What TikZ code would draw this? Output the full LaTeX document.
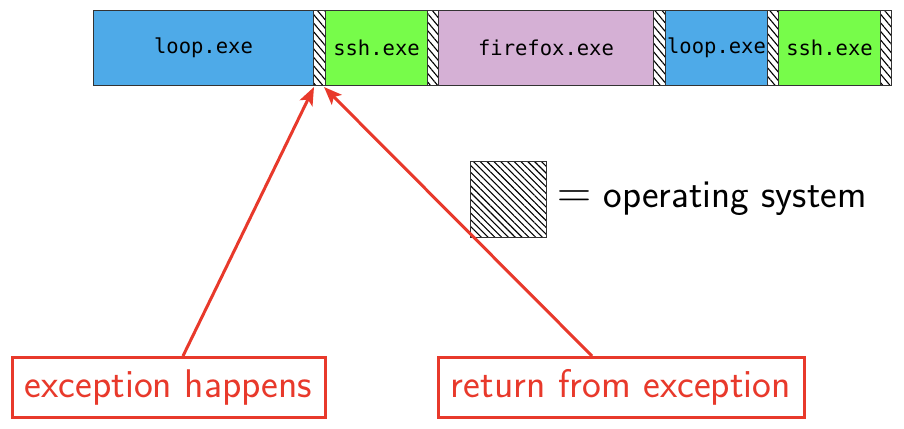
\documentclass[tikz,border=0pt]{standalone}
\usepackage{fontspec}
\newfontfamily\monof{DejaVu Sans Mono}
\usetikzlibrary{patterns.meta,arrows.meta}
\definecolor{cblue}{RGB}{78,170,232}
\definecolor{cgreen}{RGB}{119,252,74}
\definecolor{clilac}{RGB}{213,176,213}
\definecolor{cred}{RGB}{232,57,43}
\tikzset{
  seg/.style={draw=black!80,line width=1pt,minimum height=75pt,inner sep=0pt,anchor=north west,font=\monof\fontsize{20.5}{24}\selectfont},
  osseg/.style={seg,pattern={Lines[angle=-50,distance=5.5pt,line width=1.1pt]}},
  redbox/.style={draw=cred,line width=3pt,text=cred,minimum height=60pt,inner sep=0pt,font=\sffamily\fontsize{40}{48}\selectfont},
  redarrow/.style={draw=cred,line width=3pt,-{Stealth[length=18pt,width=14pt,inset=4pt]}}
}
\begin{document}
\begin{tikzpicture}[x=1pt,y=-1pt]
\useasboundingbox (0,0) rectangle (904,428);
\node[seg,fill=cblue,minimum width=220pt] (l1) at (93,10) {loop.exe};
\node[osseg,minimum width=12pt] (o1) at (313,10) {};
\node[seg,fill=cgreen,minimum width=102pt] (s1) at (325,10) {ssh.exe};
\node[osseg,minimum width=11pt] (o2) at (427,10) {};
\node[seg,fill=clilac,minimum width=215pt] (f1) at (438,10) {firefox.exe};
\node[osseg,minimum width=12pt] (o3) at (653,10) {};
\node[seg,fill=cblue,minimum width=102pt] (l2) at (665,10) {loop.exe};
\node[osseg,minimum width=11pt] (o4) at (767,10) {};
\node[seg,fill=cgreen,minimum width=102pt] (s2) at (778,10) {ssh.exe};
\node[osseg,minimum width=11pt] (o5) at (880,10) {};
\node[draw=black!80,line width=1pt,minimum width=76pt,minimum height=76pt,inner sep=0pt,anchor=north west,pattern={Lines[angle=-45,distance=4.8pt,line width=1.1pt]}] (leg) at (470,161) {};
\node[anchor=base west,inner sep=0pt,font=\sffamily\fontsize{39.5}{47}\selectfont] (legt) at (557,207) {\scalebox{1.9}{$=$} operating system};
\node[redbox,minimum width=313pt] (exc) at (168.5,387.5) {exception happens};
\node[redbox,minimum width=366pt] (ret) at (621,387.5) {return from exception};
\coordinate (t1) at (314,87);
\coordinate (t2) at (324,87);
\draw[redarrow] (exc.north -| 183,0) -- (t1);
\draw[redarrow] (ret.north -| 592,0) -- (t2);
\end{tikzpicture}
\end{document}
